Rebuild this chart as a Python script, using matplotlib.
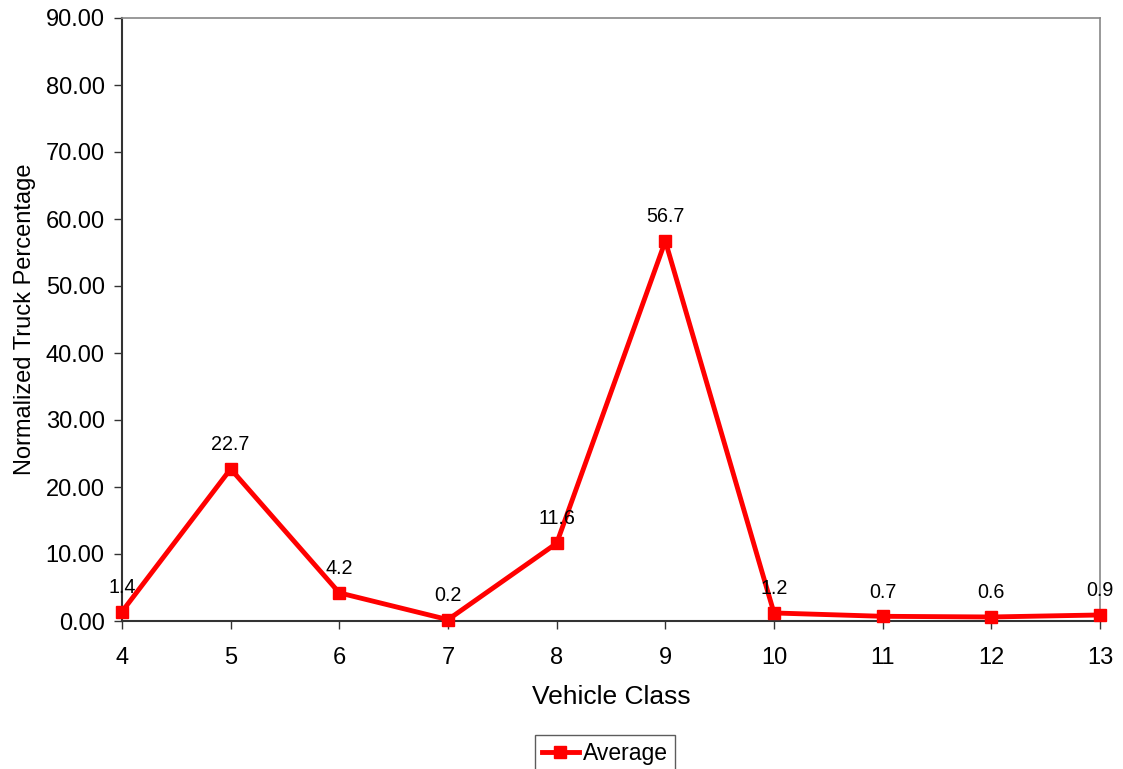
import matplotlib
matplotlib.use("Agg")
import matplotlib.pyplot as plt

plt.rcParams['font.family'] = ['Liberation Sans', 'DejaVu Sans']

vehicle_class = [4, 5, 6, 7, 8, 9, 10, 11, 12, 13]
average = [1.4, 22.7, 4.2, 0.2, 11.6, 56.7, 1.2, 0.7, 0.6, 0.9]
yticks = [0, 10, 20, 30, 40, 50, 60, 70, 80, 90]

fig = plt.figure(figsize=(11.23, 7.69), dpi=100)
ax = fig.add_axes([122/1123, 1 - 621/769, (1100-122)/1123, (621-18)/769])

ax.plot(vehicle_class, average, color='#ff0000', lw=3.5, marker='s', ms=8,
        label='Average', clip_on=False, zorder=3)
for x, y in zip(vehicle_class, average):
    ax.annotate(f"{y:.1f}", (x, y), xytext=(0, 17.5), textcoords='offset points',
                ha='center', va='center', fontsize=14.2, zorder=4)

ax.set_xlim(4, 13)
ax.set_ylim(0, 90)
ax.set_xticks(vehicle_class)
ax.set_yticks(yticks)
ax.set_yticklabels([f"{v:.2f}" for v in yticks])
ax.tick_params(axis='both', direction='out', length=5.5, width=1, labelsize=17, color='#333333')
ax.tick_params(axis='y', pad=7)
ax.tick_params(axis='x', pad=13)
ax.set_xlabel('Vehicle Class', fontsize=19, labelpad=12)
ax.set_ylabel('Normalized Truck Percentage', fontsize=17, labelpad=7)
for s in ['left', 'bottom']:
    ax.spines[s].set_color('#333333')
    ax.spines[s].set_linewidth(1.5)
for s in ['top', 'right']:
    ax.spines[s].set_color('#888888')
    ax.spines[s].set_linewidth(1.2)

leg = fig.legend(loc='upper center', bbox_to_anchor=(605/1123, 1 - 735/769), fontsize=16.5,
                 frameon=True, fancybox=False, edgecolor='#333333', handlelength=1.6,
                 borderpad=0.3, handletextpad=0.2, borderaxespad=0)
leg.get_frame().set_linewidth(1.0)

fig.savefig('out.png', dpi=100)
